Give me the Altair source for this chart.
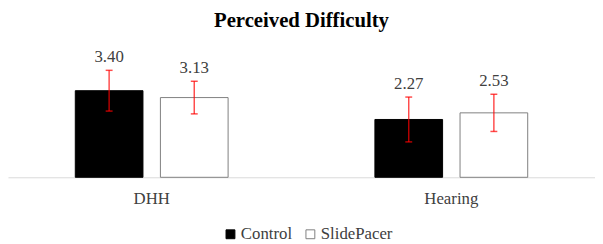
import altair as alt
import pandas as pd

groups = ["DHH", "DHH", "Hearing", "Hearing"]
conditions = ["Control", "SlidePacer", "Control", "SlidePacer"]
means = [3.40, 3.13, 2.27, 2.53]
errors = [0.80, 0.64, 0.88, 0.73]
labels = ["3.40", "3.13", "2.27", "2.53"]

df = pd.DataFrame({
    "group": groups,
    "condition": conditions,
    "mean": means,
    "lo": [m - e for m, e in zip(means, errors)],
    "hi": [m + e for m, e in zip(means, errors)],
    "label": labels,
})

FONT = "Liberation Serif, Times New Roman, DejaVu Serif, serif"

x = alt.X("group:N", sort=["DHH", "Hearing"], title=None,
          scale=alt.Scale(paddingInner=0.49, paddingOuter=0.2246, align=0.5),
          axis=alt.Axis(labelAngle=0, labelFont=FONT, labelFontSize=17, labelColor="#404040",
                        ticks=False, domainColor="#d9d9d9", domainWidth=1, labelPadding=14))
xo = alt.XOffset("condition:N", sort=["Control", "SlidePacer"],
                 scale=alt.Scale(paddingInner=0.205, paddingOuter=0))
yscale = alt.Scale(domain=[0, 5.5], nice=False, zero=True)

base = alt.Chart(df)

bars = base.mark_bar(strokeWidth=1).encode(
    x=x, xOffset=xo,
    y=alt.Y("mean:Q", scale=yscale, axis=None),
    fill=alt.Fill("condition:N", sort=["Control", "SlidePacer"],
                  scale=alt.Scale(domain=["Control", "SlidePacer"], range=["#000000", "#ffffff"]),
                  legend=alt.Legend(title=None, orient="none", direction="horizontal",
                                    legendX=217, legendY=191, symbolType="square", symbolSize=81,
                                    symbolStrokeWidth=1, labelFont=FONT, labelFontSize=17,
                                    labelColor="#404040", labelOffset=2, columnPadding=10,
                                    symbolOpacity=1)),
    stroke=alt.Stroke("condition:N", sort=["Control", "SlidePacer"],
                      scale=alt.Scale(domain=["Control", "SlidePacer"], range=["#000000", "#7f7f7f"]),
                      legend=None),
)

rules = base.mark_rule(color="#ff0000", strokeWidth=1.5, strokeOpacity=0.7).encode(
    x=x, xOffset=xo, y=alt.Y("lo:Q", scale=yscale), y2="hi:Q",
)
caps_lo = base.mark_tick(color="#ff0000", thickness=1.5, size=7, opacity=0.7).encode(
    x=x, xOffset=xo, y=alt.Y("lo:Q", scale=yscale),
)
caps_hi = base.mark_tick(color="#ff0000", thickness=1.5, size=7, opacity=0.7).encode(
    x=x, xOffset=xo, y=alt.Y("hi:Q", scale=yscale),
)
texts = base.mark_text(font=FONT, fontSize=17, color="#404040", baseline="alphabetic", dy=-8.5).encode(
    x=x, xOffset=xo, y=alt.Y("hi:Q", scale=yscale), text="label:N",
)

chart = alt.layer(bars, rules, caps_lo, caps_hi, texts).properties(
    width=595, height=142,
    autosize=alt.AutoSizeParams(type="none"),
    padding={"left": 0, "top": 28, "right": 0, "bottom": 66},
    title=alt.TitleParams("Perceived Difficulty", font=FONT, fontSize=21, fontWeight="bold",
                          color="#000000", anchor="middle", frame="group", baseline="alphabetic",
                          offset=10, dy=21),
).configure_view(stroke=None).configure_legend(symbolStrokeColor="#7f7f7f")

chart.save("out.html", embed_options={"renderer": "svg", "actions": False})
